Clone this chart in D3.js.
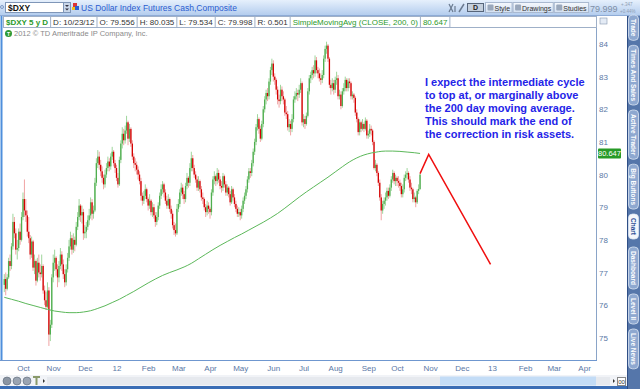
<!DOCTYPE html>
<html>
<head>
<meta charset="utf-8">
<script src="https://cdn.jsdelivr.net/npm/d3@7"></script>
<style>
  body { margin: 0; overflow: hidden; background: #fff; }
  svg { display: block; font-family: "Liberation Sans", Arial, sans-serif; }
</style>
</head>
<body>
<div id="chart"></div>
<script>
const width = 640;
const height = 389;

// daily candles, one per weekday starting 2011-09-14 : [open, high, low, close]
const firstSession = new Date(2011, 8, 14);
const ohlc = [
  [76.62,76.95,76.40,76.80],[76.80,77.00,76.30,76.50],[76.50,76.95,76.45,76.85],[76.85,77.45,76.80,77.35],
  [77.35,77.55,77.05,77.20],[77.20,77.90,77.10,77.80],[77.80,78.80,77.70,78.55],[78.55,78.70,78.05,78.20],
  [78.20,78.35,77.55,77.70],[77.70,78.00,77.40,77.75],[77.75,78.35,77.65,78.25],[78.25,78.50,77.85,78.00],
  [78.00,78.85,77.95,78.70],
  // Oct 2011
  [78.70,79.45,78.60,79.25],[79.25,79.85,78.70,78.90],[78.90,79.25,78.55,78.75],[78.75,78.90,78.10,78.25],
  [78.25,78.70,77.90,78.05],[78.05,78.15,77.40,77.55],[77.55,78.10,77.45,77.95],[77.95,78.00,77.05,77.15],
  [77.15,77.55,76.95,77.35],[77.35,77.40,76.60,76.75],[76.75,77.45,76.70,77.30],[77.30,77.55,76.85,77.00],
  [77.00,77.25,76.75,76.95],[76.95,77.55,76.85,77.20],[77.20,77.25,76.35,76.45],[76.45,76.60,76.00,76.15],
  [76.15,76.40,75.85,75.95],[75.95,76.70,75.90,76.45],[76.45,76.55,74.75,75.10],[75.10,75.55,74.90,75.40],
  [75.40,76.95,75.30,76.85],
  // Nov 2011
  [76.85,77.55,76.70,77.30],[77.30,77.70,77.05,77.45],[77.45,77.50,76.90,77.10],[77.10,77.25,76.55,76.85],
  [76.85,77.35,76.70,77.20],[77.20,77.75,77.10,77.55],[77.55,77.65,77.05,77.25],[77.25,77.40,76.80,76.95],
  [76.95,77.10,76.55,76.70],[76.70,77.25,76.60,77.10],[77.10,77.60,77.00,77.45],[77.45,78.00,77.35,77.80],
  [77.80,78.25,77.70,78.05],[78.05,78.15,77.55,77.70],[77.70,78.20,77.60,78.00],[78.00,78.10,77.65,77.85],
  [77.85,78.55,77.80,78.40],[78.40,78.85,78.30,78.70],[78.70,79.25,78.60,79.05],[79.05,79.10,78.55,78.75],
  [78.75,79.05,78.50,78.85],[78.85,78.95,78.00,78.20],
  // Dec 2011
  [78.20,78.45,78.05,78.25],[78.25,78.55,78.05,78.40],[78.40,78.75,78.30,78.60],[78.60,78.95,78.45,78.75],
  [78.75,79.30,78.65,79.15],[79.15,79.25,78.60,78.80],[78.80,79.05,78.65,78.90],[78.90,79.90,78.85,79.75],
  [79.75,80.50,79.65,80.35],[80.35,80.75,80.20,80.55],[80.55,80.70,80.15,80.30],[80.30,80.45,79.95,80.10],
  [80.10,80.25,79.75,79.90],[79.90,80.00,79.55,79.70],[79.70,80.15,79.60,80.00],[80.00,80.35,79.90,80.20],
  [80.20,80.55,80.10,80.40],[80.40,80.50,80.10,80.25],[80.25,80.65,80.15,80.55],[80.55,80.85,80.45,80.70],
  [80.70,80.75,80.25,80.35],[80.35,80.45,80.05,80.20],
  // Jan 2012
  [80.20,80.30,79.80,79.90],[79.90,80.05,79.60,79.70],[79.70,80.55,79.65,80.45],[80.45,81.05,80.35,80.95],
  [80.95,81.45,80.80,81.25],[81.25,81.40,80.90,81.05],[81.05,81.50,80.95,81.35],[81.35,81.80,81.25,81.60],
  [81.60,81.65,80.90,81.10],[81.10,81.55,81.00,81.40],[81.40,81.45,80.85,80.95],[80.95,81.05,80.45,80.55],
  [80.55,80.65,80.20,80.35],[80.35,80.50,80.10,80.30],[80.30,80.40,80.00,80.15],[80.15,80.25,79.85,80.00],
  [80.00,80.10,79.70,79.80],[79.80,79.90,79.20,79.35],[79.35,79.45,79.05,79.20],[79.20,79.50,79.10,79.35],
  [79.35,79.70,79.25,79.55],[79.55,79.60,79.15,79.25],
  // Feb 2012
  [79.25,79.30,78.90,79.05],[79.05,79.40,78.95,79.20],[79.20,79.25,78.75,78.85],[78.85,79.15,78.70,79.00],
  [79.00,79.10,78.65,78.75],[78.75,78.85,78.40,78.55],[78.55,78.85,78.45,78.70],[78.70,79.15,78.60,79.05],
  [79.05,79.45,78.95,79.35],[79.35,79.70,79.25,79.55],[79.55,79.80,79.40,79.70],[79.70,79.75,79.30,79.45],
  [79.45,79.55,79.10,79.20],[79.20,79.35,78.95,79.05],[79.05,79.40,78.95,79.25],[79.25,79.30,78.85,78.95],
  [78.95,79.05,78.65,78.80],[78.80,78.90,78.35,78.45],[78.45,78.55,78.15,78.30],[78.30,78.50,78.10,78.20],
  [78.20,79.10,78.15,78.95],
  // Mar 2012
  [78.95,79.25,78.85,79.10],[79.10,79.55,79.00,79.45],[79.45,79.75,79.35,79.60],[79.60,79.70,79.25,79.40],
  [79.40,79.50,79.10,79.25],[79.25,79.75,79.15,79.65],[79.65,80.05,79.55,79.90],[79.90,79.95,79.60,79.75],
  [79.75,80.35,79.65,80.20],[80.20,80.70,80.10,80.50],[80.50,80.60,80.10,80.20],[80.20,80.30,79.90,80.00],
  [80.00,80.10,79.75,79.85],[79.85,79.95,79.50,79.60],[79.60,79.95,79.50,79.80],[79.80,79.85,79.45,79.55],
  [79.55,79.65,79.20,79.30],[79.30,79.45,79.10,79.25],[79.25,79.30,78.90,79.00],[79.00,79.10,78.70,78.85],
  [78.85,79.20,78.75,79.05],[79.05,79.15,78.80,78.95],
  // Apr 2012
  [78.95,79.00,78.65,78.85],[78.85,79.55,78.75,79.45],[79.45,79.95,79.35,79.85],[79.85,80.10,79.70,79.95],
  [79.95,80.00,79.65,79.80],[79.80,80.20,79.70,80.05],[80.05,80.15,79.75,79.85],[79.85,79.95,79.55,79.65],
  [79.65,79.80,79.45,79.60],[79.60,80.05,79.50,79.95],[79.95,80.00,79.60,79.70],[79.70,79.80,79.35,79.45],
  [79.45,79.70,79.35,79.60],[79.60,79.65,79.30,79.40],[79.40,79.50,79.05,79.15],[79.15,79.65,79.10,79.55],
  [79.55,79.60,79.20,79.30],[79.30,79.40,79.00,79.10],[79.10,79.20,78.85,78.95],[78.95,79.05,78.70,78.80],
  [78.80,79.00,78.70,78.85],
  // May 2012
  [78.85,78.95,78.60,78.75],[78.75,79.05,78.65,78.95],[78.95,79.30,78.85,79.20],[79.20,79.45,79.10,79.35],
  [79.35,79.65,79.25,79.55],[79.55,79.95,79.45,79.85],[79.85,80.20,79.75,80.10],[80.10,80.20,79.90,80.05],
  [80.05,80.45,79.95,80.35],[80.35,80.80,80.25,80.70],[80.70,81.10,80.60,81.00],[81.00,81.55,80.90,81.45],
  [81.45,81.85,81.35,81.70],[81.70,81.75,81.25,81.40],[81.40,81.50,81.00,81.10],[81.10,81.65,81.05,81.55],
  [81.55,82.10,81.45,82.00],[82.00,82.40,81.90,82.30],[82.30,82.60,82.15,82.50],[82.50,82.65,82.25,82.40],
  [82.40,82.95,82.30,82.85],[82.85,83.30,82.75,83.20],[83.20,83.55,83.05,83.40],
  // Jun 2012
  [83.40,83.50,82.85,83.00],[83.00,83.10,82.75,82.90],[82.90,82.95,82.45,82.60],[82.60,82.70,82.15,82.30],
  [82.30,82.45,82.05,82.25],[82.25,82.75,82.15,82.60],[82.60,82.70,82.25,82.40],[82.40,82.55,82.15,82.30],
  [82.30,82.35,81.80,81.90],[81.90,82.10,81.70,81.85],[81.85,81.95,81.35,81.45],[81.45,81.70,81.30,81.55],
  [81.55,81.65,81.20,81.40],[81.40,81.85,81.30,81.70],[81.70,82.40,81.60,82.30],[82.30,82.55,82.20,82.40],
  [82.40,82.65,82.30,82.50],[82.50,82.60,82.25,82.45],[82.45,82.75,82.35,82.60],[82.60,82.95,82.50,82.80],
  [82.80,82.85,81.50,81.60],
  // Jul 2012
  [81.60,81.85,81.45,81.70],[81.70,81.80,81.40,81.55],[81.55,81.90,81.50,81.80],[81.80,82.65,81.75,82.55],
  [82.55,83.05,82.45,82.95],[82.95,83.15,82.80,83.05],[83.05,83.30,82.90,83.20],[83.20,83.35,82.95,83.10],
  [83.10,83.65,83.00,83.50],[83.50,83.60,83.10,83.20],[83.20,83.30,82.95,83.10],[83.10,83.25,82.85,82.95],
  [82.95,83.10,82.75,82.90],[82.90,83.20,82.80,83.05],[83.05,83.65,82.95,83.55],[83.55,83.95,83.45,83.85],
  [83.85,84.07,83.70,83.95],[83.95,84.00,83.45,83.55],[83.55,83.60,82.65,82.75],[82.75,82.90,82.45,82.65],
  [82.65,82.95,82.55,82.80],[82.80,82.90,82.45,82.60],
  // Aug 2012
  [82.60,83.00,82.50,82.90],[82.90,83.15,82.75,82.95],[82.95,83.05,82.30,82.40],[82.40,82.60,82.30,82.45],
  [82.45,82.55,82.00,82.10],[82.10,82.65,82.05,82.55],[82.55,82.80,82.45,82.65],[82.65,83.00,82.55,82.90],
  [82.90,82.95,82.55,82.65],[82.65,82.95,82.55,82.85],[82.85,82.95,82.65,82.80],[82.80,82.85,82.30,82.40],
  [82.40,82.55,82.30,82.45],[82.45,82.50,82.20,82.35],[82.35,82.40,81.80,81.90],[81.90,82.00,81.60,81.70],
  [81.70,81.75,81.20,81.30],[81.30,81.70,81.20,81.60],[81.60,81.65,81.30,81.40],[81.40,81.70,81.35,81.55],
  [81.55,81.60,81.30,81.40],[81.40,81.75,81.35,81.65],[81.65,81.70,81.10,81.20],
  // Sep 2012
  [81.20,81.35,81.10,81.25],[81.25,81.55,81.15,81.40],[81.40,81.50,81.20,81.35],[81.35,81.40,80.90,81.00],
  [81.00,81.05,80.15,80.20],[80.20,80.45,80.10,80.30],[80.30,80.35,79.95,80.05],[80.05,80.10,79.65,79.75],
  [79.75,79.85,79.20,79.30],[79.30,79.40,78.60,78.90],[78.90,79.20,78.80,79.10],[79.10,79.30,78.95,79.20],
  [79.20,79.45,79.05,79.30],[79.30,79.60,79.20,79.50],[79.50,79.60,79.25,79.35],[79.35,79.70,79.30,79.60],
  [79.60,79.95,79.50,79.85],[79.85,80.15,79.75,80.05],[80.05,80.10,79.70,79.80],[79.80,80.00,79.65,79.90],
  // Oct 2012
  [79.90,79.95,79.65,79.80],[79.80,79.95,79.60,79.75],[79.75,79.85,79.50,79.65],[79.65,79.75,79.30,79.40],
  [79.40,79.70,79.30,79.55],[79.55,80.00,79.45,79.90],[79.90,80.10,79.80,80.00],[80.00,80.20,79.85,80.05],
  [80.05,80.10,79.75,79.85],[79.85,79.95,79.50,79.60],[79.60,79.75,79.40,79.55],[79.55,79.60,79.15,79.25],
  [79.25,79.45,79.15,79.30],[79.30,79.35,79.00,79.15],[79.15,79.55,79.10,79.50],[79.50,79.70,79.40,79.56],
  [79.556,80.035,79.534,79.998]
];

// 200 day simple moving average, read every 5th session, last value on the final session
const smaStep = 5;
const smaValues = [
  76.24,76.18,76.12,76.05,75.99,75.93,75.87,75.82,75.79,75.77,
  75.77,75.79,75.83,75.90,75.98,76.08,76.18,76.30,76.42,76.55,
  76.68,76.80,76.91,77.00,77.08,77.17,77.28,77.42,77.56,77.70,
  77.83,77.95,78.07,78.18,78.30,78.42,78.54,78.67,78.81,78.97,
  79.14,79.31,79.47,79.62,79.77,79.92,80.08,80.24,80.39,80.51,
  80.60,80.66,80.70,80.72,80.72,80.71,80.69,80.67
];
const smaLast = 80.647;

// hand drawn projection
const forecastDates = ["2012-10-23", "2012-10-31", "2012-12-31"];
const forecastValues = [80.03, 80.62, 77.25];

const priceTicks = [75, 76, 77, 78, 79, 80, 81, 82, 83, 84];
const monthTicks = ["2011-10", "2011-11", "2011-12", "2012-01", "2012-02", "2012-03", "2012-04",
  "2012-05", "2012-06", "2012-07", "2012-08", "2012-09", "2012-10", "2012-11", "2012-12",
  "2013-01", "2013-02", "2013-03", "2013-04"];

const headerCells = ["$DXY 5 y D", "D: 10/23/12", "O: 79.556", "H: 80.035", "L: 79.534",
  "C: 79.998", "R: 0.501", "SimpleMovingAvg (CLOSE, 200, 0)", "80.647"];
const topButtons = ["Style", "Drawings", "Studies"];
const noteLines = [
  "I expect the intermediate cycle",
  "to top at, or marginally above",
  "the 200 day moving average.",
  "This should mark the end of",
  "the correction in risk assets."
];
const sideTabs = ["Trade", "Times And Sales", "Active Trader", "Big Buttons", "Chart",
  "Dashboard", "Level II", "Live News"];

// ---------------------------------------------------------------
const plot = { left: 3, right: 596, top: 28, bottom: 360 };

const sessions = d3.timeDay.range(firstSession, new Date(2013, 4, 1))
  .filter(d => d.getDay() !== 0 && d.getDay() !== 6);
const sessionTimes = sessions.map(Number);
const parseDay = d3.timeParse("%Y-%m-%d");
const parseMonth = d3.timeParse("%Y-%m");
const sessionIndex = date => d3.bisectLeft(sessionTimes, +date);

const x = d3.scaleLinear().domain([-0.9, 411.3]).range([plot.left, plot.right]);
const y = d3.scaleLinear().domain([74.32, 84.49]).range([plot.bottom, plot.top]);

const svg = d3.select("#chart").append("svg")
  .attr("width", width)
  .attr("height", height);

const defs = svg.append("defs");
const topGrad = defs.append("linearGradient").attr("id", "topbar")
  .attr("x1", 0).attr("y1", 0).attr("x2", 0).attr("y2", 1);
topGrad.append("stop").attr("offset", 0).attr("stop-color", "#e6f0fc");
topGrad.append("stop").attr("offset", 1).attr("stop-color", "#b4cdee");
const btnGrad = defs.append("linearGradient").attr("id", "btn")
  .attr("x1", 0).attr("y1", 0).attr("x2", 0).attr("y2", 1);
btnGrad.append("stop").attr("offset", 0).attr("stop-color", "#f6f9fd");
btnGrad.append("stop").attr("offset", 1).attr("stop-color", "#d3e0f1");
defs.append("clipPath").attr("id", "plotclip")
  .append("rect")
  .attr("x", plot.left).attr("y", plot.top)
  .attr("width", plot.right - plot.left).attr("height", plot.bottom - plot.top);

svg.append("rect").attr("width", width).attr("height", height).attr("fill", "#fff");

// ---- top bar
svg.append("rect").attr("width", width).attr("height", 15).attr("fill", "url(#topbar)");
svg.append("line").attr("x1", 0).attr("x2", width).attr("y1", 15.5).attr("y2", 15.5)
  .attr("stroke", "#8eabd6");
svg.append("circle").attr("cx", 2).attr("cy", 7).attr("r", 1.5)
  .attr("fill", "none").attr("stroke", "#6a88b8").attr("stroke-width", 0.8);
svg.append("rect").attr("x", 5.5).attr("y", 2.5).attr("width", 58).attr("height", 10)
  .attr("fill", "#fff").attr("stroke", "#7f96b8");
svg.append("text").attr("x", 8).attr("y", 10.5).attr("font-size", 8.5).attr("font-weight", "bold")
  .attr("fill", "#111").text("$DXY");
svg.append("rect").attr("x", 63.5).attr("y", 2.5).attr("width", 7).attr("height", 10)
  .attr("fill", "#c9d7ea").attr("stroke", "#7f96b8");
svg.append("path").attr("d", "M65,5 L69,5 L67,7 Z M65,8.5 L69,8.5 L67,10.5 Z").attr("fill", "#334");
svg.append("rect").attr("x", 73).attr("y", 3).attr("width", 4).attr("height", 4).attr("fill", "#d33");
svg.append("rect").attr("x", 75).attr("y", 6).attr("width", 4).attr("height", 4).attr("fill", "#2b5fd0");
svg.append("rect").attr("x", 72).attr("y", 7).attr("width", 3).attr("height", 3).attr("fill", "#f0c020");
svg.append("text").attr("x", 81).attr("y", 10.5).attr("font-size", 8.5).attr("fill", "#2a5cd0")
  .text("US Dollar Index Futures Cash,Composite");

// toolbar on the right of the top bar
svg.append("path").attr("d", "M449,4 L453,12 M453,4 L449,12 M455,12 L455,6").attr("stroke", "#6a7a90")
  .attr("stroke-width", 1.2).attr("fill", "none");
svg.append("path").attr("d", "M459,12 L464,4").attr("stroke", "#6a7a90").attr("stroke-width", 1.5);
svg.append("rect").attr("x", 467.5).attr("y", 3.5).attr("width", 16).attr("height", 8)
  .attr("fill", "#c4cfdc").attr("stroke", "#56657a");
svg.append("text").attr("x", 475.5).attr("y", 10).attr("text-anchor", "middle").attr("font-size", 7)
  .attr("font-weight", "bold").attr("fill", "#222").text("D");
let bx = 485;
topButtons.forEach(label => {
  const b = svg.append("g");
  const t = b.append("text").attr("x", bx + 9.5).attr("y", 10.5).attr("font-size", 7)
    .attr("fill", "#333").text(label);
  const bw = t.node().getComputedTextLength() + 11;
  b.insert("rect", "text").attr("x", bx + 0.5).attr("y", 2.5).attr("width", bw).attr("height", 10)
    .attr("fill", "url(#btn)").attr("stroke", "#a9b9d0");
  b.append("rect").attr("x", bx + 2.5).attr("y", 4.5).attr("width", 6).attr("height", 6)
    .attr("fill", "#9aa8bc").attr("rx", 1);
  bx += bw + 1;
});
svg.append("text").attr("x", 590).attr("y", 11.5).attr("font-size", 9).attr("fill", "#7d8ea6")
  .text("79.999");
svg.append("text").attr("x", 621).attr("y", 6).attr("font-size", 4.5).attr("fill", "#8e9db3")
  .text("+.347");
svg.append("text").attr("x", 620).attr("y", 13).attr("font-size", 4.5).attr("fill", "#8e9db3")
  .text("+0.44%");

// ---- study / quote row
const row = svg.append("g");
row.append("rect").attr("x", 3.5).attr("y", 16.5).attr("width", 593).attr("height", 11)
  .attr("fill", "#fff").attr("stroke", "#9fb0c8");
let cx = 3.5;
headerCells.forEach((label, i) => {
  const green = i === 0 || i >= 7;
  const t = row.append("text")
    .attr("x", cx + 2.5).attr("y", 25)
    .attr("font-size", 8)
    .attr("font-weight", i === 0 ? "bold" : "normal")
    .attr("fill", green ? "#2c9a2c" : "#333")
    .text(label);
  const w = t.node().getComputedTextLength() + 5;
  row.append("line").attr("x1", cx + w).attr("x2", cx + w).attr("y1", 16.5).attr("y2", 27.5)
    .attr("stroke", "#9fb0c8");
  cx += w;
});
svg.append("rect").attr("x", 600).attr("y", 18).attr("width", 7).attr("height", 6)
  .attr("fill", "#e4ebf5").attr("stroke", "#8797b0").attr("stroke-width", 0.6);

// ---- plot frame
svg.append("line").attr("x1", 1.5).attr("x2", 1.5).attr("y1", 16).attr("y2", 361)
  .attr("stroke", "#4f8fdc").attr("stroke-width", 2);
svg.append("line").attr("x1", plot.right + 0.5).attr("x2", plot.right + 0.5)
  .attr("y1", plot.top).attr("y2", plot.bottom)
  .attr("stroke", "#8aa4c8");
svg.append("line").attr("x1", 0).attr("x2", plot.right + 1).attr("y1", plot.bottom + 0.5).attr("y2", plot.bottom + 0.5)
  .attr("stroke", "#6f97cf");

// copyright line
svg.append("circle").attr("cx", 8.5).attr("cy", 33.5).attr("r", 3.5).attr("fill", "#2e9a34");
svg.append("text").attr("x", 8.5).attr("y", 35.5).attr("text-anchor", "middle").attr("font-size", 5)
  .attr("fill", "#fff").attr("font-weight", "bold").text("T");
svg.append("text").attr("x", 14).attr("y", 36).attr("font-size", 7.5).attr("fill", "#8a8a8a")
  .text("2012 \u00a9 TD Ameritrade IP Company, Inc.");

// ---- candles
const g = svg.append("g").attr("clip-path", "url(#plotclip)");
const candles = ohlc.map(([o, h, l, c], i) => ({ i, o, h, l, c, up: c >= o }));

g.append("g").selectAll("line")
  .data(candles)
  .join("line")
    .attr("x1", d => x(d.i)).attr("x2", d => x(d.i))
    .attr("y1", d => y(d.h)).attr("y2", d => y(d.l))
    .attr("stroke", d => d.up ? "#9fd69c" : "#f0a4a4")
    .attr("stroke-width", 1);

g.append("g").selectAll("rect")
  .data(candles)
  .join("rect")
    .attr("x", d => x(d.i) - 0.65)
    .attr("width", 1.3)
    .attr("y", d => y(Math.max(d.o, d.c)))
    .attr("height", d => Math.max(1, Math.abs(y(d.o) - y(d.c))))
    .attr("fill", d => d.up ? "#4fae4f" : "#d40000");

// ---- 200 day moving average
const smaPoints = smaValues.map((v, k) => ({ i: k * smaStep, v }))
  .concat([{ i: ohlc.length - 1, v: smaLast }]);
g.append("path")
  .datum(smaPoints)
  .attr("fill", "none")
  .attr("stroke", "#5cb85a")
  .attr("stroke-width", 1)
  .attr("d", d3.line().x(d => x(d.i)).y(d => y(d.v)).curve(d3.curveMonotoneX));

// ---- projection
const forecast = forecastDates.map((d, k) => ({ i: sessionIndex(parseDay(d)), v: forecastValues[k] }));
g.append("path")
  .datum(forecast)
  .attr("fill", "none")
  .attr("stroke", "#f01010")
  .attr("stroke-width", 1.5)
  .attr("d", d3.line().x(d => x(d.i)).y(d => y(d.v)));

// ---- note
svg.append("text")
  .attr("font-size", 11)
  .attr("font-weight", "bold")
  .attr("fill", "#2424e8")
  .selectAll("tspan")
  .data(noteLines)
  .join("tspan")
    .attr("x", 425)
    .attr("y", (d, k) => 86 + k * 13.1)
    .text(d => d);

// ---- price axis
const yAxis = svg.append("g")
  .attr("transform", `translate(${plot.right},0)`)
  .call(d3.axisRight(y).tickValues(priceTicks).tickSize(0).tickPadding(3).tickFormat(d3.format("d")));
yAxis.select(".domain").remove();
yAxis.selectAll("text").attr("font-size", 8).attr("fill", "#5a78a6").attr("font-family", null);

const lastY = y(smaLast);
svg.append("rect").attr("x", 598).attr("y", lastY - 5).attr("width", 23).attr("height", 10)
  .attr("fill", "#279a27").attr("rx", 1);
svg.append("text").attr("x", 609.5).attr("y", lastY + 3).attr("text-anchor", "middle")
  .attr("font-size", 7.5).attr("fill", "#fff").text(d3.format(".3f")(smaLast));

// ---- time axis
const monthIdx = monthTicks.map(m => sessionIndex(parseMonth(m)));
const xAxis = svg.append("g")
  .attr("transform", `translate(0,${plot.bottom})`)
  .call(d3.axisBottom(x).tickValues(monthIdx).tickSize(0).tickPadding(5)
    .tickFormat(i => {
      const d = sessions[i];
      return d.getMonth() === 0 ? d3.timeFormat("%y")(d) : d3.timeFormat("%b")(d);
    }));
xAxis.select(".domain").remove();
xAxis.selectAll("text").attr("font-size", 8).attr("fill", "#5a78a6").attr("font-family", null);

// ---- bottom scroll bar
svg.append("rect").attr("x", 0).attr("y", 375).attr("width", 627).attr("height", 12).attr("fill", "#f1f3f7");
svg.append("rect").attr("x", 47).attr("y", 377).attr("width", 563).attr("height", 8).attr("fill", "#e6e9ee");
svg.append("rect").attr("x", 440).attr("y", 376.5).attr("width", 156).attr("height", 9).attr("fill", "#c3dcf6");
[7, 17, 27].forEach((cxp, k) => {
  svg.append("circle").attr("cx", cxp).attr("cy", 381).attr("r", 4)
    .attr("fill", k === 0 ? "#8b95a3" : "#9aa4b2").attr("stroke", "#5d6877").attr("stroke-width", 0.6);
});
svg.append("path").attr("d", "M33,377 L40,377 M36.5,377 L36.5,385").attr("stroke", "#8a9a6a")
  .attr("stroke-width", 2);
svg.append("path").attr("d", "M45,381 L43,379 L43,383 Z").attr("fill", "#333");
svg.append("path").attr("d", "M613,379 L615,381 L613,383 Z").attr("fill", "#333");
svg.append("rect").attr("x", 617.5).attr("y", 377.5).attr("width", 8).attr("height", 8)
  .attr("fill", "#fff").attr("stroke", "#888");
svg.append("text").attr("x", 621.5).attr("y", 384).attr("text-anchor", "middle").attr("font-size", 6)
  .attr("fill", "#333").text("00");
svg.append("rect").attr("x", 0).attr("y", 386).attr("width", width).attr("height", 3).attr("fill", "#3a6db5");

// ---- side panel
svg.append("rect").attr("x", 627).attr("y", 16).attr("width", 13).attr("height", 373).attr("fill", "#5576aa");
svg.append("line").attr("x1", 627.5).attr("x2", 627.5).attr("y1", 16).attr("y2", 389).attr("stroke", "#2f4f86");
let ty = 15;
sideTabs.forEach((label, k) => {
  const tab = svg.append("g");
  const t = tab.append("text")
    .attr("font-size", 6.5).attr("font-weight", "bold")
    .attr("fill", label === "Chart" ? "#2b4f96" : "#fff")
    .text(label);
  const len = t.node().getComputedTextLength() + 8;
  tab.insert("rect", "text")
    .attr("x", 628.5).attr("y", ty).attr("width", 10).attr("height", len).attr("rx", 4)
    .attr("fill", label === "Chart" ? "#f4f7fb" : "#8ea8d0")
    .attr("stroke", "#dbe4f2").attr("stroke-width", 0.8);
  t.attr("transform", `translate(631.3,${ty + 4}) rotate(90)`);
  ty += len + (k === 4 ? 8 : 5);
});
</script>
</body>
</html>
